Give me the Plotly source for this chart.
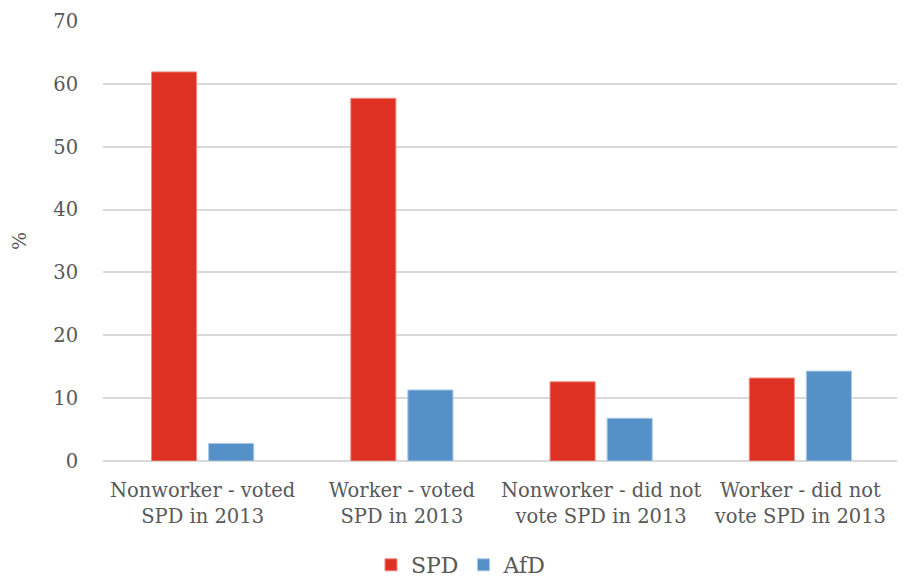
import plotly.graph_objects as go

categories = [
    "Nonworker - voted<br>SPD in 2013",
    "Worker - voted<br>SPD in 2013",
    "Nonworker - did not<br>vote SPD in 2013",
    "Worker - did not<br>vote SPD in 2013",
]
spd = [61.9, 57.7, 12.6, 13.2]
afd = [2.8, 11.3, 6.8, 14.3]

serif = "DejaVu Serif"

fig = go.Figure()
fig.add_trace(go.Bar(x=categories, y=spd, name="SPD", marker_color="#DE3124",
                     marker_line=dict(color="#F08A80", width=1)))
fig.add_trace(go.Bar(x=categories, y=afd, name="AfD", marker_color="#5590C8",
                     marker_line=dict(color="#A9C7E6", width=1)))

# page body has an 8px margin, so the figure is sized 8px smaller
fig.update_layout(
    width=897, height=571,
    margin=dict(l=95, r=5, t=13, b=118),
    plot_bgcolor="white", paper_bgcolor="white",
    font=dict(family=serif, size=19, color="#595959"),
    barmode="group", bargap=0.427, bargroupgap=0.21,
    legend=dict(orientation="h", xref="container", x=0.505, xanchor="center",
                yref="container", y=0.0245, yanchor="middle",
                font=dict(size=22), itemwidth=30, tracegroupgap=0),
    xaxis=dict(showgrid=False, showline=False, ticks="outside", ticklen=12,
               tickcolor="rgba(0,0,0,0)", tickfont=dict(size=19.5), tickangle=0,
               automargin=False),
    yaxis=dict(range=[0, 70], dtick=10, gridcolor="#D9D9D9", gridwidth=1.5,
               zeroline=True, zerolinecolor="#D9D9D9", zerolinewidth=1.5,
               title=dict(text="%", font=dict(size=19), standoff=44),
               tickfont=dict(size=19.5), ticks="outside", ticklen=20,
               tickcolor="rgba(0,0,0,0)", automargin=False),
)

fig.write_html("out.html")
